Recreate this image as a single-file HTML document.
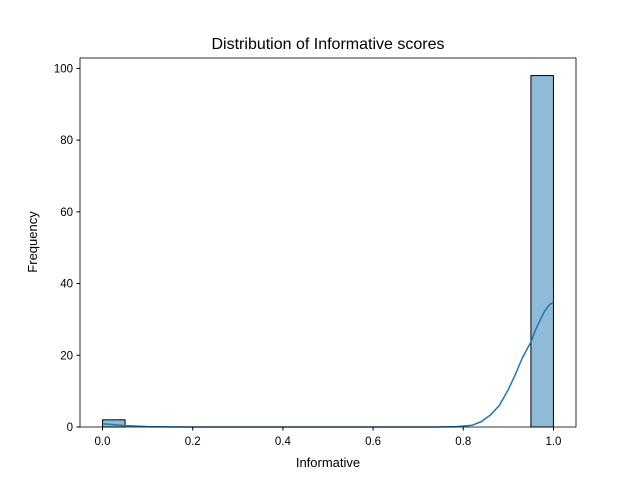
<!DOCTYPE html>
<html><head><meta charset="utf-8"><style>
body{margin:0;background:#fff}
svg text{font-family:"Liberation Sans","DejaVu Sans",sans-serif;fill:#000}
</style></head><body>
<svg id="chart" width="640" height="480" xmlns="http://www.w3.org/2000/svg">
<rect width="640" height="480" fill="#fff"/>
<text x="328" y="49" font-size="16" text-anchor="middle">Distribution of Informative scores</text>
<g id="bars"></g>
<polyline id="kde" fill="none" stroke="#1f77b4" stroke-width="1.5" stroke-linejoin="round"/>
<rect x="80" y="58" width="496" height="369" fill="none" stroke="#000" stroke-width="0.8"/>
<g id="xticks"></g><g id="yticks"></g>
<text x="328" y="467" font-size="13" text-anchor="middle">Informative</text>
<text transform="translate(37,242) rotate(-90)" font-size="13" text-anchor="middle">Frequency</text>
</svg>
<script>
const binEdgesStart = [0.0, 0.95];
const binCounts = [2, 98];
const binWidth = 0.05;
const kdeX = [0,0.02,0.05,0.1,0.15,0.2,0.4,0.6,0.74,0.785,0.82,0.84,0.86,0.88,0.9,0.915,0.93,0.95,0.96,0.97,0.98,0.99,1.0];
const kdeY = [0.9,0.7,0.4,0.1,0.02,0,0,0,0,0.1,0.5,1.5,3.3,6,10.5,14.5,19,23.7,27,29.7,32.2,34,34.8];
const xTicks = [0,0.2,0.4,0.6,0.8,1.0];
const xTickLabels = ["0.0","0.2","0.4","0.6","0.8","1.0"];
const yTicks = [0,20,40,60,80,100];
const yTickLabels = ["0","20","40","60","80","100"];
const NS="http://www.w3.org/2000/svg";
const X=v=>80+(v+0.05)/1.1*496;
const Y=v=>427-v/102.9*369;
const bars=document.getElementById('bars');
binCounts.forEach((c,i)=>{
 const r=document.createElementNS(NS,'rect');
 r.setAttribute('x',X(binEdgesStart[i]));r.setAttribute('y',Y(c));
 r.setAttribute('width',X(binEdgesStart[i]+binWidth)-X(binEdgesStart[i]));
 r.setAttribute('height',Y(0)-Y(c));
 r.setAttribute('fill','rgba(31,119,180,0.5)');r.setAttribute('stroke','#000');r.setAttribute('stroke-width','1');
 
 
 bars.appendChild(r);
});
document.getElementById('kde').setAttribute('points',kdeX.map((x,i)=>X(x)+','+Y(kdeY[i])).join(' '));
const xt=document.getElementById('xticks');
xTicks.forEach((t,i)=>{
 const l=document.createElementNS(NS,'line');
 l.setAttribute('x1',X(t));l.setAttribute('x2',X(t));l.setAttribute('y1',427);l.setAttribute('y2',430.5);l.setAttribute('stroke','#000');
 
 
 xt.appendChild(l);
 const tx=document.createElementNS(NS,'text');
 tx.setAttribute('x',X(t));tx.setAttribute('y',445);tx.setAttribute('font-size','11.5');tx.setAttribute('text-anchor','middle');
 tx.textContent=xTickLabels[i];
 
 
 xt.appendChild(tx);
});
const yt=document.getElementById('yticks');
yTicks.forEach((t,i)=>{
 const l=document.createElementNS(NS,'line');
 l.setAttribute('x1',76.5);l.setAttribute('x2',80);l.setAttribute('y1',Y(t));l.setAttribute('y2',Y(t));l.setAttribute('stroke','#000');
 
 
 yt.appendChild(l);
 const tx=document.createElementNS(NS,'text');
 tx.setAttribute('x',73);tx.setAttribute('y',Y(t)+4);tx.setAttribute('font-size','11.5');tx.setAttribute('text-anchor','end');
 tx.textContent=yTickLabels[i];
 
 
 yt.appendChild(tx);
});
</script>
</body></html>
